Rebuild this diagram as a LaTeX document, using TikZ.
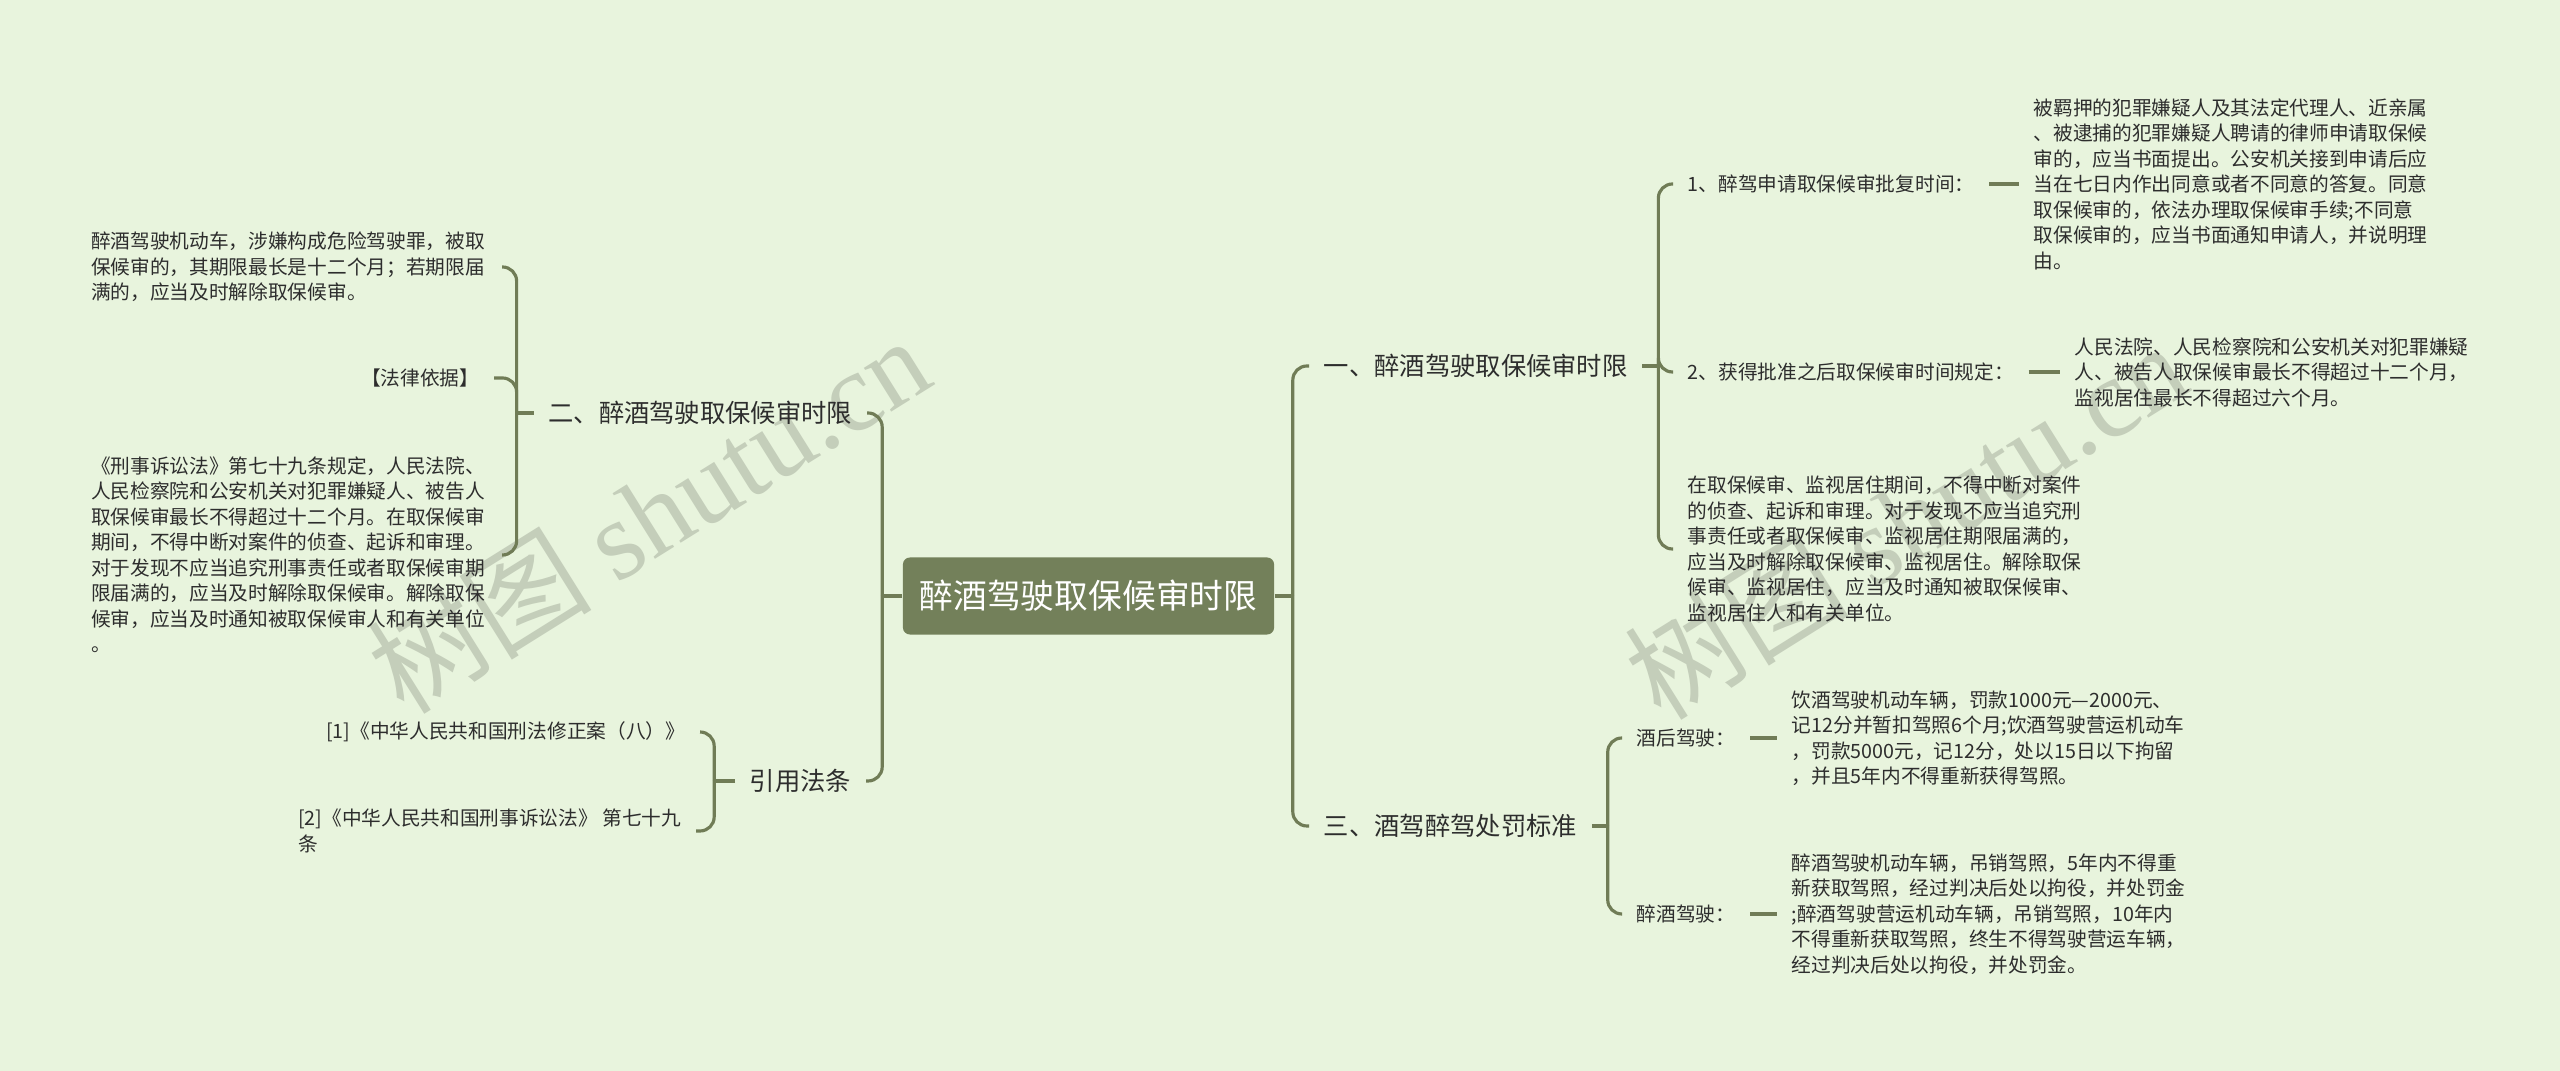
\documentclass[tikz,border=0pt]{standalone}
\usepackage{fontspec}
\setmainfont{Noto Sans CJK SC}
\newfontfamily\wmlatin{Liberation Serif}
\definecolor{bgcol}{RGB}{232,244,221}
\definecolor{linecol}{RGB}{112,124,86}
\definecolor{rootcol}{RGB}{115,128,90}
\definecolor{txtcol}{RGB}{45,45,45}
\definecolor{wmcol}{RGB}{196,206,186}

\begin{document}
\begin{tikzpicture}[x=0.01cm,y=-0.01cm,
  link/.style={draw=linecol,line width=0.9pt,rounded corners=4pt},
  root/.style={fill=rootcol,rounded corners=2pt,text=white,font=\fontsize{9.6}{11}\selectfont,minimum width=3.71cm,minimum height=0.77cm},
  branch/.style={text=txtcol,font=\fontsize{7.2}{9}\selectfont,inner xsep=4pt},
  leaf/.style={text=txtcol,font=\fontsize{5.6}{7.25}\selectfont,inner xsep=4pt},
  blk/.style={leaf,text width=3.96cm,align=left},
  wm/.style={text=wmcol,font=\fontsize{32}{34}\selectfont,inner sep=0pt}]
%背景
\fill[bgcol](0,0)rectangle(2560,1071);
\useasboundingbox(0,0)rectangle(2560,1071);

%水印
\node[wm,rotate=32](wmL)at(648,514){树图 {\wmlatin shutu.cn}};
\node[wm,rotate=32](wmR)at(1905,520){树图 {\wmlatin shutu.cn}};

%中心主题
\node[root](root)at(1088.5,596){醉酒驾驶取保候审时限};

%一级分支
\node[branch,anchor=west](b1)at(1309,366){一、醉酒驾驶取保候审时限}; %右上
\node[branch,anchor=west](b3)at(1309,826){三、酒驾醉驾处罚标准}; %右下
\node[branch,anchor=east](b2)at(867,413){二、醉酒驾驶取保候审时限}; %左上
\node[branch,anchor=east](b4)at(866,781){引用法条}; %左下

%一、的子项
\node[leaf,anchor=west](c1)at(1673,184){1、醉驾申请取保候审批复时间：};
\node[blk,anchor=west](d1)at(2019,184){被羁押的犯罪嫌疑人及其法定代理人、近亲属\\、被逮捕的犯罪嫌疑人聘请的律师申请取保候\\审的，应当书面提出。公安机关接到申请后应\\当在七日内作出同意或者不同意的答复。同意\\取保候审的，依法办理取保候审手续;不同意\\取保候审的，应当书面通知申请人，并说明理\\由。};
\node[leaf,anchor=west](c2)at(1673,372){2、获得批准之后取保候审时间规定：};
\node[blk,anchor=west](d2)at(2060,372){人民法院、人民检察院和公安机关对犯罪嫌疑\\人、被告人取保候审最长不得超过十二个月，\\监视居住最长不得超过六个月。};
\node[blk,anchor=west](c3)at(1673,549){在取保候审、监视居住期间，不得中断对案件\\的侦查、起诉和审理。对于发现不应当追究刑\\事责任或者取保候审、监视居住期限届满的，\\应当及时解除取保候审、监视居住。解除取保\\候审、监视居住，应当及时通知被取保候审、\\监视居住人和有关单位。};

%三、的子项
\node[leaf,anchor=west](c4)at(1622,738){酒后驾驶：};
\node[blk,anchor=west](d4)at(1777,738){饮酒驾驶机动车辆，罚款1000元—2000元、\\记12分并暂扣驾照6个月;饮酒驾驶营运机动车\\，罚款5000元，记12分，处以15日以下拘留\\，并且5年内不得重新获得驾照。};
\node[leaf,anchor=west](c5)at(1622,914){醉酒驾驶：};
\node[blk,anchor=west](d5)at(1777,914){醉酒驾驶机动车辆，吊销驾照，5年内不得重\\新获取驾照，经过判决后处以拘役，并处罚金\\;醉酒驾驶营运机动车辆，吊销驾照，10年内\\不得重新获取驾照，终生不得驾驶营运车辆，\\经过判决后处以拘役，并处罚金。};

%二、的子项
\node[blk,anchor=east](e1)at(502,267){醉酒驾驶机动车，涉嫌构成危险驾驶罪，被取\\保候审的，其期限最长是十二个月；若期限届\\满的，应当及时解除取保候审。};
\node[leaf,anchor=east](e2)at(494,378){【法律依据】};
\node[blk,anchor=east](e3)at(502,555){《刑事诉讼法》第七十九条规定，人民法院、\\人民检察院和公安机关对犯罪嫌疑人、被告人\\取保候审最长不得超过十二个月。在取保候审\\期间，不得中断对案件的侦查、起诉和审理。\\对于发现不应当追究刑事责任或者取保候审期\\限届满的，应当及时解除取保候审。解除取保\\候审，应当及时通知被取保候审人和有关单位\\。};

%引用法条的子项
\node[leaf,anchor=east](f1)at(700,732){[1]《中华人民共和国刑法修正案（八）》};
\node[leaf,align=left,anchor=east](f2)at(696,831){[2]《中华人民共和国刑事诉讼法》 第七十九\\条};

%连线 中心
\draw[link](root.east)--++(18,0)coordinate(tR);
\draw[link](tR)|-(b1.west);
\draw[link](tR)|-(b3.west);
\draw[link](root.west)--++(-20,0)coordinate(tL);
\draw[link](tL)|-(b2.east);
\draw[link](tL)|-(b4.east);

%连线 一、
\draw[link](b1.east)--++(16,0)coordinate(t1);
\draw[link](t1)|-(c1.west);
\draw[link](t1)|-(c2.west);
\draw[link](t1)|-(c3.west);
\draw[link](c1.east)to(d1.west);
\draw[link](c2.east)to(d2.west);

%连线 三、
\draw[link](b3.east)--++(16,0)coordinate(t3);
\draw[link](t3)|-(c4.west);
\draw[link](t3)|-(c5.west);
\draw[link](c4.east)to(d4.west);
\draw[link](c5.east)to(d5.west);

%连线 二、
\draw[link](b2.west)--++(-17,0)coordinate(t2);
\draw[link](t2)|-(e1.east);
\draw[link](t2)|-(e2.east);
\draw[link](t2)|-(e3.east);

%连线 引用法条
\draw[link](b4.west)--++(-21,0)coordinate(t4);
\draw[link](t4)|-(f1.east);
\draw[link](t4)|-(f2.east);
\end{tikzpicture}
\end{document}
